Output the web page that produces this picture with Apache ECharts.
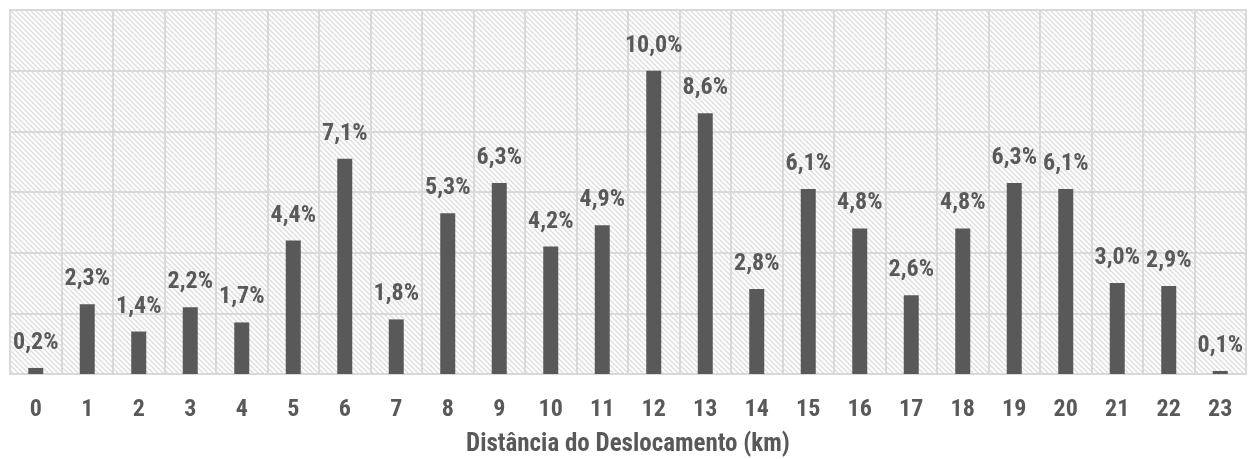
<!DOCTYPE html>
<html>
<head>
<meta charset="utf-8">
<script src="https://cdn.jsdelivr.net/npm/echarts@6/dist/echarts.min.js"></script>
<style>
  html, body { margin: 0; padding: 0; background: #fff; }
  #chart { width: 1255px; height: 459px; }
</style>
</head>
<body>
<div id="chart"></div>
<script>
// distance buckets (km) and share of trips (%)
const categories = ['0','1','2','3','4','5','6','7','8','9','10','11','12','13','14','15','16','17','18','19','20','21','22','23'];
const shares = [0.2, 2.3, 1.4, 2.2, 1.7, 4.4, 7.1, 1.8, 5.3, 6.3, 4.2, 4.9, 10.0, 8.6, 2.8, 6.1, 4.8, 2.6, 4.8, 6.3, 6.1, 3.0, 2.9, 0.1];
const axisTitle = 'Distância do Deslocamento (km)';

const FONT = "'Liberation Sans Narrow', 'Roboto Condensed', 'Arial Narrow', 'Liberation Sans', sans-serif";
const INK = '#595959';

// diagonal hatch tile for the plot background
function hatch() {
    const s = 5;
    const c = document.createElement('canvas');
    c.width = s; c.height = s;
    const g = c.getContext('2d');
    g.fillStyle = '#ffffff';
    g.fillRect(0, 0, s, s);
    g.strokeStyle = '#dedede';
    g.lineWidth = 1.4;
    g.beginPath();
    g.moveTo(-1, -1); g.lineTo(s + 1, s + 1);
    g.moveTo(-s - 1, -1); g.lineTo(1, s + 1);
    g.moveTo(s - 1, -1); g.lineTo(2 * s + 1, s + 1);
    g.stroke();
    return c;
}

const chart = echarts.init(document.getElementById('chart'), null, { renderer: 'canvas' });
chart.setOption({
    animation: false,
    backgroundColor: '#ffffff',
    grid: {
        left: 10, right: 9, top: 10, bottom: 85,
        outerBoundsMode: 'none',
        containLabel: false,
        show: true,
        backgroundColor: { image: hatch(), repeat: 'repeat' },
        borderColor: '#d9d9d9', borderWidth: 2,
    },
    xAxis: {
        type: 'category',
        data: categories,
        boundaryGap: true,
        name: axisTitle,
        nameLocation: 'middle',
        nameGap: 58,
        nameTextStyle: { color: INK, fontFamily: FONT, fontWeight: 'bold', fontSize: 25 },
        axisLine: { show: true, lineStyle: { color: '#d9d9d9', width: 2 } },
        axisTick: { show: false },
        axisLabel: { color: INK, fontFamily: FONT, fontWeight: 'bold', fontSize: 24, margin: 24 },
        splitLine: { show: true, lineStyle: { color: '#d9d9d9', width: 2 } },
    },
    yAxis: {
        type: 'value',
        min: 0, max: 12, interval: 2,
        axisLabel: { show: false },
        axisLine: { show: false },
        axisTick: { show: false },
        splitLine: { show: true, lineStyle: { color: '#d9d9d9', width: 2 } },
    },
    series: [{
        type: 'bar',
        data: shares,
        barWidth: 15,
        itemStyle: { color: INK },
        label: {
            show: true,
            position: 'top',
            distance: 13,
            color: INK,
            fontFamily: FONT,
            fontWeight: 'bold',
            fontSize: 24,
            formatter: (p) => p.value.toFixed(1).replace('.', ',') + '%',
        },
    }],
});
</script>
</body>
</html>
